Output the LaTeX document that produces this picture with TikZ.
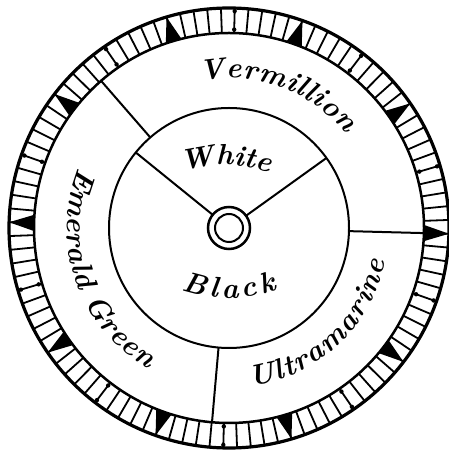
\documentclass[tikz,border=0pt]{standalone}
\usetikzlibrary{decorations.text}
\newcommand\wheelfont{\fontsize{29}{33}\selectfont\bfseries\itshape}
\newcommand\hubfont{\fontsize{29}{33}\selectfont\bfseries\itshape}
\begin{document}
\begin{tikzpicture}[x=1pt,y=1pt,
  rim/.style={line width=3.2pt},
  rimin/.style={line width=2.5pt},
  tickline/.style={line width=1.8pt},
  divider/.style={line width=2pt},
  arctext/.style={decorate, decoration={text along path, text align=fit to path, text={#1}}}
]
\useasboundingbox (0,0) rectangle (449,452);
\fill[white] (0,0) rectangle (449,452);
\begin{scope}[shift={(229pt,224pt)}]
\coordinate (c) at (0,0);
% graduated rim
\foreach \j in {0,...,99}{
  \pgfmathsetmacro\a{-1.5+3.6*\j}
  \draw[tickline] (\a:195pt) -- (\a:220pt);
}
\foreach \k in {0,...,9}{
  \pgfmathsetmacro\a{-1.5+36*\k}
  \pgfmathsetmacro\b{\a+18}
  \fill ({\a-2.4}:195pt) -- ({\a+2.4}:195pt) -- (\a:220pt) -- cycle;
  \fill (\b:198.5pt) circle[radius=2.2pt] (\b:217pt) circle[radius=2.2pt];
}
\draw[rim] (c) circle[radius=220pt];
\draw[rimin] (c) circle[radius=195pt];
% inner disc
\draw[divider] (c) circle[radius=120pt];
\coordinate (v1) at (131:120pt); \coordinate (v1o) at (131:195pt);
\coordinate (v2) at (-1.5:120pt); \coordinate (v2o) at (-1.5:195pt);
\coordinate (v3) at (265:120pt); \coordinate (v3o) at (265:195pt);
\draw[divider] (v1) -- (v1o);
\draw[divider] (v2) -- (v2o);
\draw[divider] (v3) -- (v3o);
\coordinate (w1) at (141:21pt); \coordinate (w1o) at (141:120pt);
\coordinate (w2) at (35.7:21pt); \coordinate (w2o) at (35.7:120pt);
\draw[divider] (w1) -- (w1o);
\draw[divider] (w2) -- (w2o);
% hub
\draw[line width=2.5pt] (c) circle[radius=21pt];
\draw[line width=2pt] (c) circle[radius=14pt];
% labels
\path[arctext={|\wheelfont|Vermillion}] (101:150pt) arc[start angle=101, end angle=39, radius=150pt];
\path[arctext={|\wheelfont|Emerald Green}] (158:162pt) arc[start angle=158, end angle=240, radius=162pt];
\path[arctext={|\wheelfont|Ultramarine}] (-82:160pt) arc[start angle=-82, end angle=-12, radius=160pt];
\path[arctext={|\hubfont|White}] (-5pt,-77pt) ++(107:140pt) arc[start angle=107, end angle=74, radius=140pt];
\path[arctext={|\hubfont|Black}] (0pt,70pt) ++(250.4:140pt) arc[start angle=250.4, end angle=290, radius=140pt];
\end{scope}
\end{tikzpicture}
\end{document}
